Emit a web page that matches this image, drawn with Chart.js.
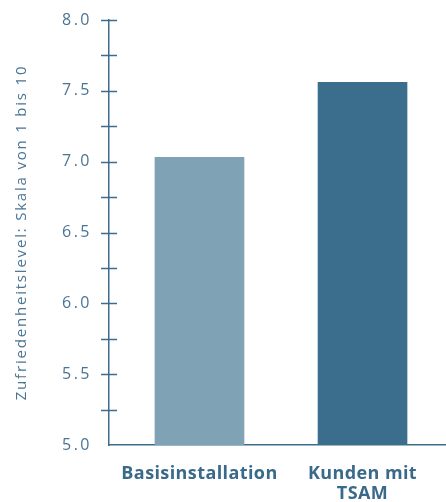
<!DOCTYPE html>
<html><head><meta charset="utf-8">
<script src="https://cdn.jsdelivr.net/npm/chart.js@4/dist/chart.umd.min.js"></script>
<style>html,body{margin:0;padding:0;background:#fff}#wrap{width:446px;height:502px;position:relative}</style>
</head><body><div id="wrap"><canvas id="c"></canvas></div>
<script>
const categories = [['Basisinstallation'], ['Kunden mit', 'TSAM']];
const values = [7.03, 7.56];
const barColors = ['#7fa2b4', '#3b6e8d'];
const yTitle = 'Zufriedenheitslevel: Skala von 1 bis 10';
const yMin = 5.0, yMax = 8.0, yStep = 0.25;

const axisColor = '#3d6b8b';
const textColor = '#4a7494';

function spaced(fn, ctx, sp) {
  return function (...a) { const old = ctx.letterSpacing; ctx.letterSpacing = sp; fn.apply(this, a); ctx.letterSpacing = old || '0px'; };
}

const styling = {
  id: 'styling',
  beforeDraw(chart) {
    if (chart._patched) return;
    chart._patched = true;
    const ctx = chart.ctx;
    const y = chart.scales.y, x = chart.scales.x;
    y.drawLabels = spaced(y.drawLabels, ctx, '2.5px');
    y.drawTitle = spaced(y.drawTitle, ctx, '1.8px');
    x.drawLabels = spaced(x.drawLabels, ctx, '0.4px');
  },
  afterDraw(chart) {
    const y = chart.scales.y, ctx = chart.ctx;
    const x0 = chart.chartArea.left;
    ctx.save();
    ctx.strokeStyle = axisColor;
    ctx.lineWidth = 1.5;
    y.ticks.forEach(t => {
      if (t.value === yMin) return;
      const py = Math.round(y.getPixelForValue(t.value)) + 0.5;
      ctx.beginPath(); ctx.moveTo(x0 - 8, py); ctx.lineTo(x0 + 8, py); ctx.stroke();
    });
    ctx.restore();
  }
};

new Chart(document.getElementById('c'), {
  type: 'bar',
  data: {
    datasets: [{
      data: values.map((v, i) => ({ x: i, y: v })),
      backgroundColor: barColors,
      borderWidth: 0,
      barThickness: 89
    }]
  },
  options: {
    responsive: true, maintainAspectRatio: false, animation: false,
    layout: { padding: { top: 20, right: 0, left: 0, bottom: 0 } },
    plugins: { legend: { display: false }, tooltip: { enabled: false } },
    scales: {
      x: {
        type: 'linear', min: -0.555, max: 1.512, offset: false,
        afterBuildTicks: s => { s.ticks = categories.map((c, i) => ({ value: i })); },
        ticks: {
          callback: (v) => categories[v],
          color: '#3a6a8a', font: { family: 'Open Sans', size: 18, weight: 'bold', lineHeight: 1.1 },
          padding: 19, maxRotation: 0, autoSkip: false
        },
        grid: { display: false, drawTicks: false, offset: false },
        border: { display: true, color: axisColor, width: 1.5 },
        afterFit: s => { s.height = 57; }
      },
      y: {
        min: yMin, max: yMax,
        afterBuildTicks: s => { const t = []; for (let v = yMin; v <= yMax + 1e-9; v += yStep) t.push({ value: +v.toFixed(2) }); s.ticks = t; },
        ticks: {
          callback: v => (Math.round(v * 4) % 2 === 0 ? v.toFixed(1) : ''),
          color: textColor, font: { family: 'Open Sans', size: 16 }, padding: 3, autoSkip: false
        },
        grid: { display: true, drawOnChartArea: false, drawTicks: true, tickLength: 14, color: 'rgba(0,0,0,0)' },
        border: { display: true, color: axisColor, width: 1.5 },
        title: { display: true, text: yTitle, color: textColor, font: { family: 'Open Sans', size: 15 }, padding: { top: 13, bottom: 0 } },
        afterFit: s => { s.width = 109; }
      }
    }
  },
  plugins: [styling]
});
</script></body></html>
